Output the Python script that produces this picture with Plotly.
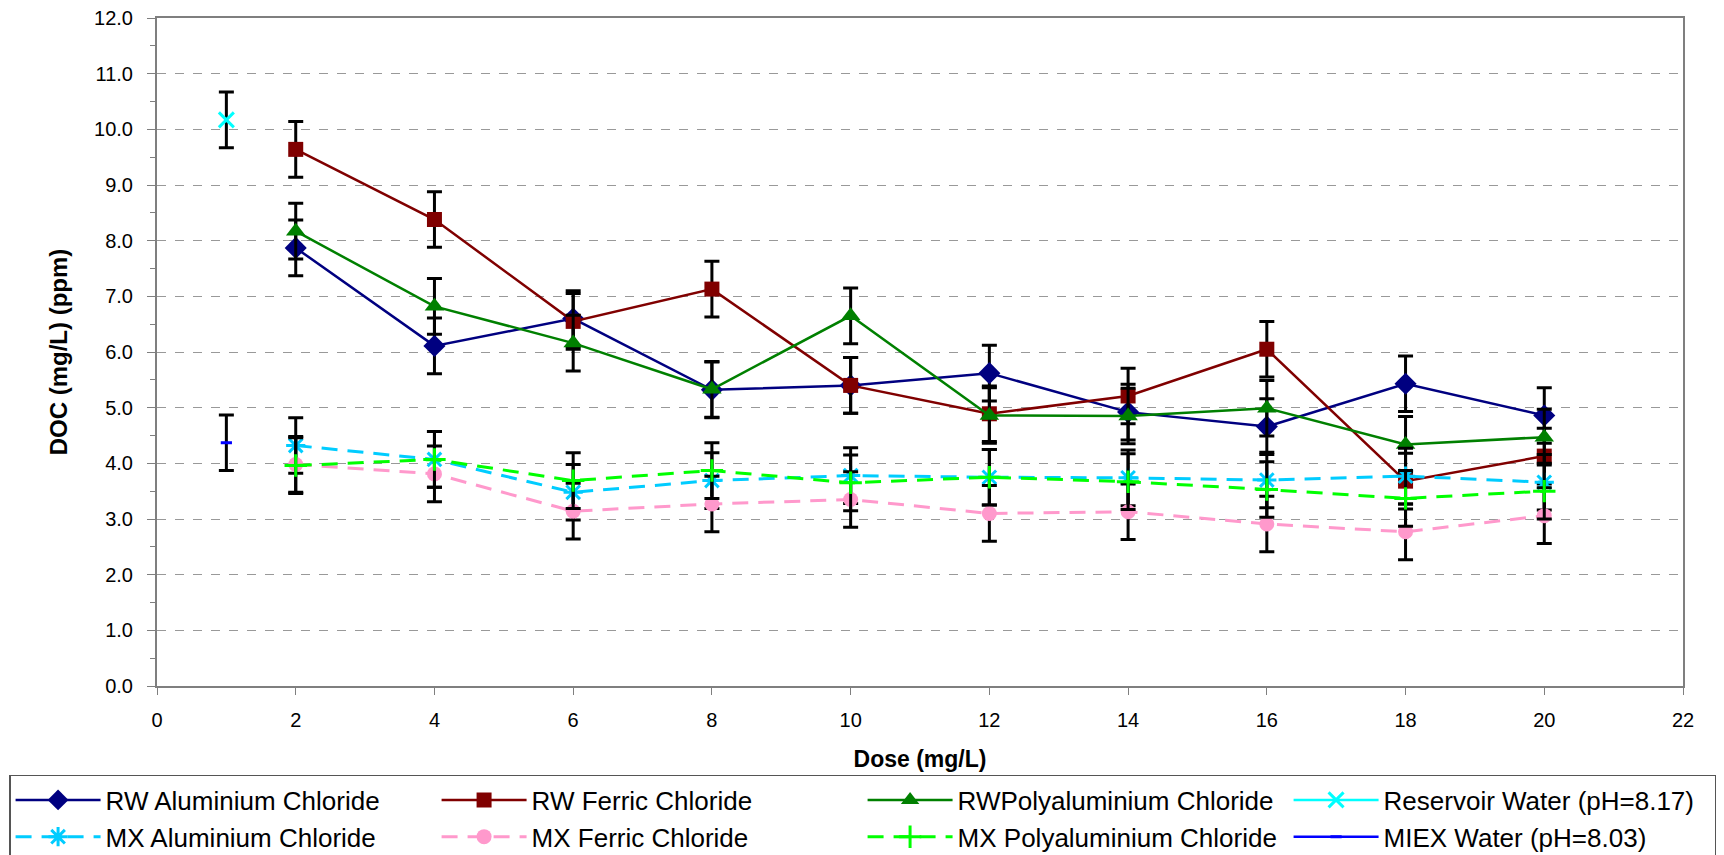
import plotly.graph_objects as go

# Coagulant dose (mg/L)
dose = [2, 4, 6, 8, 10, 12, 14, 16, 18, 20]
raw_dose = [1]

# DOC (mg/L) for raw water (RW) treated with each coagulant
rw_alum = [7.87, 6.11, 6.60, 5.32, 5.40, 5.62, 4.92, 4.66, 5.43, 4.86]
rw_ferric = [9.64, 8.38, 6.55, 7.13, 5.40, 4.89, 5.21, 6.05, 3.68, 4.13]
rw_pacl = [8.17, 6.82, 6.16, 5.33, 6.65, 4.86, 4.85, 4.99, 4.34, 4.47]

# DOC (mg/L) for MIEX-pretreated water (MX) treated with each coagulant
mx_alum = [4.32, 4.07, 3.48, 3.69, 3.78, 3.75, 3.74, 3.70, 3.77, 3.66]
mx_ferric = [3.98, 3.81, 3.14, 3.27, 3.35, 3.10, 3.13, 2.91, 2.77, 3.06]
mx_pacl = [3.96, 4.07, 3.69, 3.87, 3.65, 3.75, 3.67, 3.53, 3.37, 3.50]

# Untreated reference waters
reservoir = [10.17]
miex = [4.37]

# Error (+/- mg/L) on every DOC measurement
doc_error = 0.5

FONT = "Liberation Sans, Arial, sans-serif"

series = [
    ("RW Aluminium Chloride", dose, rw_alum, "#000080", "diamond", 17, None, 2.5),
    ("RW Ferric Chloride", dose, rw_ferric, "#800000", "square", 15, None, 2.5),
    ("RWPolyaluminium Chloride", dose, rw_pacl, "#008000", "triangle-up", 17, None, 2.5),
    ("Reservoir Water (pH=8.17)", raw_dose, reservoir, "#00FFFF", "x-thin-open", 15, None, 2.5),
    ("MX Aluminium Chloride", dose, mx_alum, "#00CCFF", "asterisk-open", 16, "16px,10px", 3),
    ("MX Ferric Chloride", dose, mx_ferric, "#FF99CC", "circle", 15, "16px,10px", 3),
    ("MX Polyaluminium Chloride", dose, mx_pacl, "#00FF00", "cross-thin-open", 16, "16px,10px", 3),
    ("MIEX Water (pH=8.03)", raw_dose, miex, "#0000FF", "line-ew-open", 8, None, 2.5),
]

fig = go.Figure()
for name, xs, ys, color, symbol, size, dash, lw in series:
    open_sym = symbol.endswith("open")
    fig.add_trace(go.Scatter(
        x=xs, y=ys, name=name, mode="lines+markers",
        line=dict(color=color, width=lw, dash=dash),
        marker=dict(symbol=symbol, size=size, color=color,
                    line=dict(color=color, width=3 if open_sym else 0)),
        error_y=dict(type="constant", value=doc_error, color="black",
                     thickness=3, width=7.5),
    ))

# Plot frame: 157px left margin, the x axis occupies the first 1526px of the
# 1567px-wide area so the legend below can span the full figure width.
fig.update_layout(
    width=1724, height=855,
    margin=dict(l=157, r=0, t=18, b=169, autoexpand=False),
    paper_bgcolor="white", plot_bgcolor="white",
    font=dict(family=FONT, size=20, color="black"),
    showlegend=True,
    legend=dict(
        orientation="h", x=-0.0944, y=-0.1332, xanchor="left", yanchor="top",
        entrywidth=326, entrywidthmode="pixels", itemwidth=85,
        bordercolor="#555555", borderwidth=1.5, bgcolor="white",
        font=dict(family=FONT, size=26, color="black"),
        tracegroupgap=0, itemsizing="trace",
    ),
)

fig.update_xaxes(
    domain=[0, 1526 / 1567],
    range=[0, 22], dtick=2, tick0=0,
    showline=True, linecolor="#7f7f7f", linewidth=2, mirror=True,
    ticks="outside", ticklen=7, tickcolor="#7f7f7f", tickwidth=1,
    showgrid=False, zeroline=False,
    tickfont=dict(family=FONT, size=20),
    ticklabelstandoff=8,
    title=dict(text="<b>Dose (mg/L)</b>", font=dict(family=FONT, size=23), standoff=21),
)
fig.update_yaxes(
    range=[0, 12], dtick=1, tick0=0, tickformat=".1f",
    showline=True, linecolor="#7f7f7f", linewidth=2, mirror=True,
    ticks="outside", ticklen=8, tickcolor="#7f7f7f", tickwidth=1,
    minor=dict(dtick=0.5, ticks="outside", ticklen=5, tickcolor="#7f7f7f", showgrid=False),
    showgrid=True, gridcolor="#999999", gridwidth=1, griddash="dash",
    zeroline=False,
    tickfont=dict(family=FONT, size=20),
    ticklabelstandoff=10,
    title=dict(text="<b>DOC (mg/L) (ppm)</b>", font=dict(family=FONT, size=24), standoff=20),
)

fig.write_html("out.html")
